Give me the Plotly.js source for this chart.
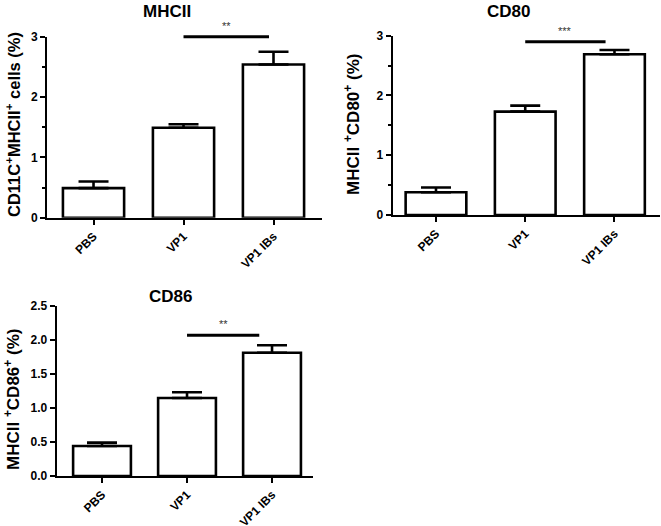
<!DOCTYPE html>
<html>
<head>
<meta charset="utf-8">
<script src="https://cdn.plot.ly/plotly-3.0.1.min.js"></script>
<style>html,body{margin:0;padding:0;background:#fff;}#chart{width:661px;height:526px;}</style>
</head>
<body>
<div id="chart"></div>
<script>
const categories = ['PBS', 'VP1', 'VP1 IBs'];

const mhciiMean = [0.49, 1.49, 2.54];
const mhciiErr = [0.11, 0.06, 0.21];
const cd80Mean = [0.38, 1.73, 2.69];
const cd80Err = [0.08, 0.10, 0.07];
const cd86Mean = [0.44, 1.145, 1.81];
const cd86Err = [0.05, 0.085, 0.11];

const panelTitles = ['MHCII', 'CD80', 'CD86'];
const yTitles = ['CD11C<sup>+</sup>MHCII<sup>+</sup> cells (%)', 'MHCII <sup>+</sup>CD80<sup>+</sup> (%)', 'MHCII <sup>+</sup>CD86<sup>+</sup> (%)'];
const sigLevel = [3.0, 2.9, 2.065];
const sigStars = ['**', '***', '**'];
const sigFrom = [1.0, 1.0, 1.0];
const sigTo = [1.95, 1.9, 1.85];

const FONT = 'Arial';
const W = 661, H = 526;

function barTrace(vals, errs, xa, ya) {
  return {
    type: 'bar', x: categories, y: vals, xaxis: xa, yaxis: ya,
    width: 0.68,
    marker: {color: '#ffffff', line: {color: '#000', width: 2.6}},
    error_y: {type: 'data', symmetric: false, array: errs, arrayminus: errs.map(() => 0),
              color: '#000', thickness: 2.6, width: 15},
    hoverinfo: 'skip', showlegend: false
  };
}

const data = [
  barTrace(mhciiMean, mhciiErr, 'x', 'y'),
  barTrace(cd80Mean, cd80Err, 'x2', 'y2'),
  barTrace(cd86Mean, cd86Err, 'x3', 'y3')
];

function xAxis(x0, x1, rng, anchor) {
  return {
    domain: [x0 / W, x1 / W], range: rng, anchor: anchor, type: 'category',
    showline: true, linecolor: '#000', linewidth: 2,
    ticks: 'outside', ticklen: 5, tickwidth: 2, tickcolor: '#000',
    tickangle: -45, showticklabels: true, showgrid: false, zeroline: false, fixedrange: true,
    tickfont: {family: FONT, size: 12, color: '#000', weight: 'bold'}
  };
}
function yAxis(top, bottom, rng, anchor, dtick, minor, fmt) {
  const ax = {
    domain: [1 - bottom / H, 1 - top / H], range: rng, anchor: anchor,
    showline: true, linecolor: '#000', linewidth: 2,
    ticks: 'outside', ticklen: 5, tickwidth: 2, tickcolor: '#000',
    dtick: dtick, tick0: 0, showgrid: false, zeroline: false, fixedrange: true,
    tickfont: {family: FONT, size: 12, color: '#000', weight: 'bold'}
  };
  if (fmt) ax.tickformat = fmt;
  if (minor) ax.minor = {dtick: minor, ticklen: 3, tickwidth: 2, tickcolor: '#000', ticks: 'outside', showgrid: false};
  return ax;
}

const layout = {
  width: W, height: H,
  margin: {l: 0, r: 0, t: 0, b: 0},
  paper_bgcolor: '#fff', plot_bgcolor: 'rgba(0,0,0,0)',
  showlegend: false, bargap: 0.32,
  xaxis: xAxis(47, 322, [-0.517, 2.539], 'y'),
  yaxis: yAxis(36.7, 217.7, [0, 3], 'x', 1, 0.5),
  xaxis2: xAxis(392.7, 660, [-0.485, 2.51], 'y2'),
  yaxis2: yAxis(35.7, 215, [0, 3], 'x2', 1, 0.5),
  xaxis3: xAxis(56.7, 313, [-0.533, 2.482], 'y3'),
  yaxis3: yAxis(305.7, 476, [0, 2.5], 'x3', 0.5, null, '.1f'),
  shapes: [],
  annotations: []
};

const titlePos = [[167, 11], [508, 11], [170, 296]];
const yTitlePos = [[13, 125], [352, 125], [12, 400]];
const yTitleSize = [16.5, 17, 17];
const axPairs = [['x', 'y'], ['x2', 'y2'], ['x3', 'y3']];
const yKeys = ['yaxis', 'yaxis2', 'yaxis3'];

for (let i = 0; i < 3; i++) {
  const yr = layout[yKeys[i]].range;
  const frac = (sigLevel[i] - yr[0]) / (yr[1] - yr[0]);
  layout.annotations.push({
    text: '<b>' + panelTitles[i] + '</b>', xref: 'paper', yref: 'paper',
    x: titlePos[i][0] / W, y: 1 - titlePos[i][1] / H, xanchor: 'center', yanchor: 'middle',
    showarrow: false, font: {family: FONT, size: 17, color: '#000'}
  });
  layout.annotations.push({
    text: '<b>' + yTitles[i] + '</b>', xref: 'paper', yref: 'paper', textangle: -90,
    x: yTitlePos[i][0] / W, y: 1 - yTitlePos[i][1] / H, xanchor: 'center', yanchor: 'middle',
    showarrow: false, font: {family: FONT, size: yTitleSize[i], color: '#000'}
  });
  layout.shapes.push({
    type: 'line', xref: axPairs[i][0], yref: axPairs[i][1] + ' domain',
    x0: sigFrom[i], x1: sigTo[i], y0: frac, y1: frac,
    line: {color: '#000', width: 3}
  });
  layout.annotations.push({
    text: sigStars[i], xref: axPairs[i][0], yref: axPairs[i][1],
    x: (sigFrom[i] + sigTo[i]) / 2, y: sigLevel[i], xanchor: 'center', yanchor: 'bottom',
    yshift: 3, showarrow: false, font: {family: FONT, size: 11, color: '#333'}
  });
}

Plotly.newPlot('chart', data, layout, {displayModeBar: false, staticPlot: true});
</script>
</body>
</html>
